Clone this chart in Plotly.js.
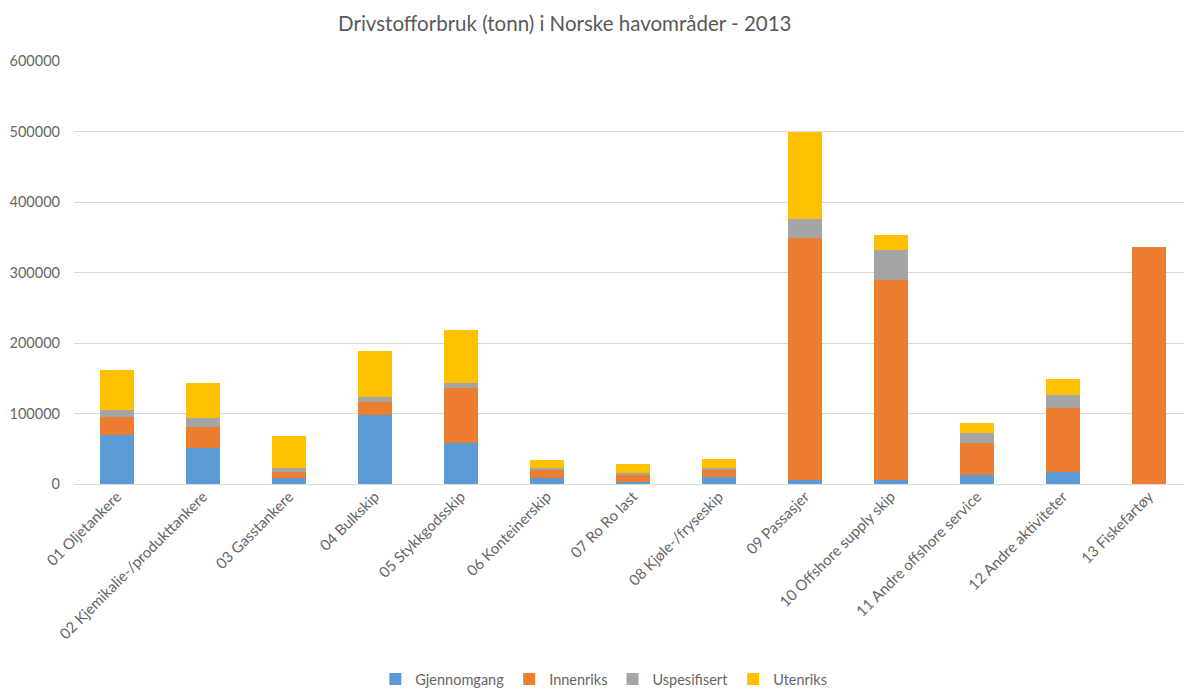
<!DOCTYPE html>
<html>
<head>
<meta charset="utf-8">
<script src="https://cdn.plot.ly/plotly-3.0.1.min.js"></script>
<style>
html,body{margin:0;padding:0;background:#fff;overflow:hidden;}
#chart{width:1184px;height:690px;}
</style>
</head>
<body>
<div id="chart"></div>
<script>
const categories = [
  "01 Oljetankere",
  "02 Kjemikalie-/produkttankere",
  "03 Gasstankere",
  "04 Bulkskip",
  "05 Stykkgodsskip",
  "06 Konteinerskip",
  "07 Ro Ro last",
  "08 Kjøle-/fryseskip",
  "09 Passasjer",
  "10 Offshore supply skip",
  "11 Andre offshore service",
  "12 Andre aktiviteter",
  "13 Fiskefartøy"
];
const gjennomgang = [69500, 50600, 8000, 98000, 57700, 8000, 3000, 10000, 5000, 5000, 12800, 17400, 0];
const innenriks   = [26000, 30700, 9500, 19000, 78000, 12000, 11000, 10000, 343500, 284400, 45800, 90000, 336000];
const uspesifisert= [9500, 11900, 5000, 7000, 8000, 3000, 1500, 2000, 27000, 42600, 13300, 18800, 0];
const utenriks    = [56700, 49600, 45000, 64000, 74700, 11000, 13000, 13500, 124300, 21200, 15100, 22300, 0];

const seriesNames = ["Gjennomgang", "Innenriks", "Uspesifisert", "Utenriks"];
const seriesColors = ["#5B9BD5", "#ED7D31", "#A5A5A5", "#FFC000"];
const seriesValues = [gjennomgang, innenriks, uspesifisert, utenriks];

const traces = seriesValues.map((vals, i) => ({
  type: "bar",
  name: seriesNames[i],
  x: categories,
  y: vals,
  marker: {color: seriesColors[i]},
  hoverinfo: "x+y+name"
}));

const layout = {
  width: 1184,
  height: 690,
  barmode: "stack",
  bargap: 0.6,
  paper_bgcolor: "#ffffff",
  plot_bgcolor: "#ffffff",
  font: {family: "Lato, 'Open Sans', sans-serif", color: "#595959", size: 14},
  title: {
    text: "Drivstofforbruk (tonn) i Norske havområder - 2013",
    font: {family: "Lato, 'Open Sans', sans-serif", size: 20.5, color: "#595959"},
    x: 0.477, xanchor: "center", xref: "container",
    y: 0.966, yanchor: "middle", yref: "container"
  },
  margin: {l: 74, r: 0, t: 61, b: 206},
  xaxis: {
    type: "category",
    range: [-0.5, 12.407],
    tickangle: -45,
    tickfont: {size: 15, color: "#666666"},
    showgrid: false,
    showline: false,
    zeroline: false,
    ticks: ""
  },
  yaxis: {
    range: [0, 600000],
    tick0: 0,
    dtick: 100000,
    tickformat: "d",
    showgrid: true,
    gridcolor: "#D9D9D9",
    gridwidth: 1,
    zeroline: true,
    zerolinecolor: "#D9D9D9",
    zerolinewidth: 1,
    showline: false,
    ticks: "",
    ticklabelstandoff: 13,
    tickfont: {size: 14.5, color: "#666666"}
  },
  showlegend: true,
  legend: {
    orientation: "h",
    xref: "container",
    yref: "container",
    x: 0.51,
    xanchor: "center",
    y: 0.016,
    yanchor: "middle",
    font: {size: 14.5, color: "#666666"},
    traceorder: "normal",
    itemwidth: 30
  }
};

Plotly.newPlot("chart", traces, layout, {displayModeBar: false, responsive: false});
</script>
</body>
</html>
